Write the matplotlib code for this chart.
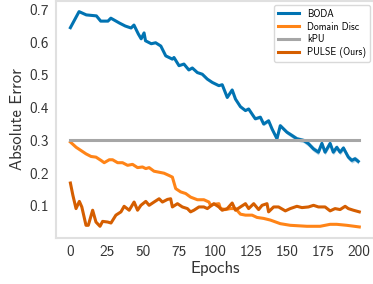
import numpy as np
import matplotlib
matplotlib.use('Agg')
import matplotlib.pyplot as plt

# values
boda_epochs = [0, 6, 11, 18, 21, 26, 28, 34, 38, 42, 44, 47, 49, 51, 52, 56, 59, 62.6, 66,
               70.6, 71.7, 75.2, 78.6, 82, 84.4, 87.9, 91.3, 94.8, 98.2, 102.8, 105.1, 108.6,
               112, 114.3, 117.7, 121.2, 123.4, 126.9, 128, 131.5, 133.8, 137.2, 139.6, 143,
               145.3, 149.9, 153.4, 156.8, 161.4, 164.8, 168.3, 171.7, 174.1, 176.3, 179.8,
               182, 184.4, 186.7, 189, 192.4, 194.8, 197, 199.3]
boda_vals = [0.644, 0.693, 0.683, 0.680, 0.664, 0.664, 0.673, 0.658, 0.649, 0.643, 0.652,
             0.625, 0.610, 0.628, 0.604, 0.595, 0.598, 0.588, 0.558, 0.548, 0.553, 0.528,
             0.533, 0.515, 0.521, 0.507, 0.502, 0.487, 0.477, 0.467, 0.470, 0.431, 0.454,
             0.426, 0.403, 0.391, 0.396, 0.373, 0.366, 0.371, 0.350, 0.360, 0.335, 0.305,
             0.345, 0.325, 0.315, 0.305, 0.300, 0.290, 0.274, 0.264, 0.291, 0.264, 0.291,
             0.264, 0.279, 0.264, 0.277, 0.249, 0.239, 0.244, 0.236]
boda_std = [0.0] * 38 + [0.004, 0.004, 0.005, 0.005, 0.005, 0.006, 0.006, 0.006, 0.007,
                         0.007, 0.007, 0.008, 0.008, 0.008, 0.008, 0.008, 0.008, 0.008,
                         0.008, 0.008, 0.008, 0.008, 0.008, 0.008, 0.008]

disc_epochs = [0, 4, 7.4, 10.8, 14.3, 17.7, 21.2, 23.4, 26.9, 29.2, 32.7, 36.1, 39.6, 43,
               46.5, 49.9, 52.2, 54.5, 57.9, 61.4, 64.8, 68.3, 70.6, 72.9, 76.3, 79.8, 83.2,
               87.9, 92.4, 95.9, 97, 99.3, 102.8, 103.9, 107.4, 110.8, 114.3, 117.7, 121.2,
               125.8, 129.2, 133.8, 138.4, 145.3, 152.2, 163.7, 172.9, 179.8, 184.4, 191.3, 200]
disc_vals = [0.295, 0.279, 0.269, 0.259, 0.251, 0.249, 0.239, 0.232, 0.241, 0.241, 0.232,
             0.232, 0.224, 0.227, 0.217, 0.219, 0.214, 0.217, 0.206, 0.203, 0.200, 0.193,
             0.188, 0.153, 0.143, 0.138, 0.127, 0.119, 0.119, 0.112, 0.102, 0.105, 0.107,
             0.092, 0.089, 0.092, 0.092, 0.075, 0.072, 0.072, 0.065, 0.062, 0.057, 0.046,
             0.041, 0.038, 0.038, 0.044, 0.044, 0.041, 0.036]

kpu_epochs = [0, 200]
kpu_vals = [0.3, 0.3]

pulse_epochs = [0, 1.7, 3.9, 6.2, 7.9, 10.8, 12.4, 15.4, 17.7, 20.5, 22.3, 25.8, 28.1, 31.5,
                35, 37.2, 40.7, 44.1, 46.5, 48.8, 52.2, 54.5, 57.9, 61.4, 63.7, 67.2, 69.4,
                70.6, 74.1, 77.5, 81, 83.2, 85.5, 89, 92.4, 94.8, 99.3, 102.8, 105.1, 108.6,
                112, 114.3, 117.7, 121.2, 123.4, 126.9, 130.3, 132.7, 136.1, 137.2, 140.7,
                144.1, 148.8, 152.2, 156.8, 160.3, 164.8, 168.3, 171.7, 176.3, 179.8, 183.2,
                186.7, 190.2, 192.4, 195.9, 200]
pulse_vals = [0.170, 0.133, 0.092, 0.114, 0.097, 0.041, 0.041, 0.087, 0.051, 0.038, 0.053,
              0.051, 0.048, 0.072, 0.082, 0.099, 0.087, 0.112, 0.087, 0.102, 0.114, 0.102,
              0.112, 0.122, 0.112, 0.120, 0.122, 0.097, 0.107, 0.097, 0.092, 0.082, 0.087,
              0.097, 0.097, 0.092, 0.107, 0.097, 0.087, 0.092, 0.109, 0.087, 0.097, 0.107,
              0.092, 0.107, 0.089, 0.102, 0.107, 0.082, 0.097, 0.097, 0.085, 0.092, 0.099,
              0.095, 0.097, 0.102, 0.097, 0.097, 0.085, 0.092, 0.089, 0.099, 0.092, 0.087,
              0.082]

plt.rcParams['font.family'] = ['cmss10', 'DejaVu Sans']
plt.rcParams['axes.unicode_minus'] = False

fig = plt.figure(figsize=(3.73, 2.84), dpi=100)
ax = fig.add_axes([0.150, 0.163, 0.852, 0.834])

boda_lo = np.array(boda_vals) - np.array(boda_std)
boda_hi = np.array(boda_vals) + np.array(boda_std)
ax.fill_between(boda_epochs, boda_lo, boda_hi, color='#0173b2', alpha=0.3, lw=0)
ax.plot(boda_epochs, boda_vals, color='#0173b2', lw=2.2, label='BODA')
ax.plot(disc_epochs, disc_vals, color='#ff8417', lw=2.2, label='Domain Disc')
ax.plot(kpu_epochs, kpu_vals, color='#a6a6a6', lw=2.2, label='kPU')
ax.plot(pulse_epochs, pulse_vals, color='#d55e00', lw=2.2, label='PULSE (Ours)')

ax.set_xticks([0, 25, 50, 75, 100, 125, 150, 175, 200])
ax.set_yticks([0.1, 0.2, 0.3, 0.4, 0.5, 0.6, 0.7])
ax.tick_params(length=0, labelsize=11, labelcolor='#333333', pad=5)
for s in ax.spines.values():
    s.set_color('#e0e0e0')
    s.set_linewidth(1.5)
ax.set_xlabel('Epochs', fontsize=12, color='#333333', labelpad=2)
ax.set_ylabel('Absolute Error', fontsize=12, color='#333333', labelpad=3)

leg = ax.legend(loc='upper right', fontsize=7, frameon=True, handlelength=2.2,
                borderaxespad=0.4, labelspacing=0.3)
leg.get_frame().set_edgecolor('#d0d0d0')

fig.savefig('out.png', dpi=100)
